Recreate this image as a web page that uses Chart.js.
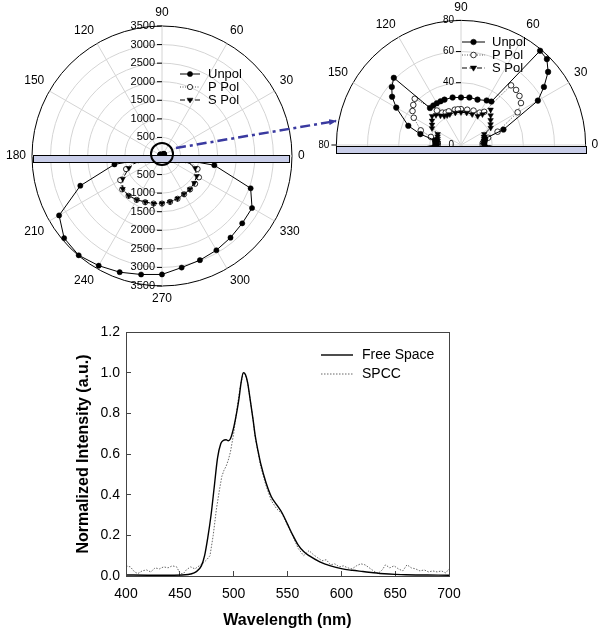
<!DOCTYPE html>
<html>
<head>
<meta charset="utf-8">
<script src="https://cdn.jsdelivr.net/npm/chart.js@4.4.1/dist/chart.umd.min.js"></script>
<style>
  html, body { margin: 0; padding: 0; background: #fff; overflow: hidden; }
  #page { position: relative; width: 604px; height: 638px; background: #fff; }
  .box { position: absolute; }
  .sample { position: absolute; box-sizing: border-box; background: #c9cee9; border: 1.5px solid #000; z-index: 2; }
  #lens { position: absolute; box-sizing: border-box; border: 2px solid #000; border-radius: 50%; z-index: 3; }
  #arrow { position: absolute; left: 0; top: 0; z-index: 4; pointer-events: none; }
</style>
</head>
<body>
<div id="page">
  <div class="box" style="left:0;top:0;width:312px;height:312px"><canvas id="bigPolar"></canvas></div>
  <div class="box" style="left:319px;top:0;width:291px;height:152px;overflow:hidden">
    <div style="position:relative;width:291px;height:291px"><canvas id="zoomPolar"></canvas></div>
  </div>
  <div class="box" style="left:0;top:300px;width:604px;height:338px"><canvas id="spectrum"></canvas></div>

  <div class="sample" style="left:33px;top:155px;width:257px;height:8px"></div>
  <div class="sample" style="left:336px;top:146px;width:251px;height:8px"></div>
  <div id="lens" style="left:150px;top:142px;width:24px;height:24px"></div>
  <svg id="arrow" width="604" height="638">
    <defs>
      <marker id="head" markerWidth="8" markerHeight="6" refX="7" refY="3" orient="auto" markerUnits="userSpaceOnUse">
        <path d="M0,0 L8,3 L0,6 z" fill="#3a3aa0"/>
      </marker>
    </defs>
    <line x1="176" y1="148" x2="336" y2="121" stroke="#3a3aa0" stroke-width="2.5" stroke-dasharray="10 4 3 4" marker-end="url(#head)"/>
  </svg>
</div>

<script>
var FONT = 'Arial, "Liberation Sans", Helvetica, sans-serif';
Chart.defaults.font.family = FONT;
Chart.defaults.color = '#000';

// scan angles in degrees, one slot every 5 deg
var angleStep = 5;
var scanAngles = [];
for (var a = 0; a < 360; a += angleStep) scanAngles.push(a);

// emission above the sample, 0..180 deg
var unpolUpper = [15, 15, 15.5, 16, 29, null, 57, 65, 73, 78, 79, 34, 33, null, 31, null, 31, null, 30.5, null,
  31, null, 31, 31, 31, 31, 31, 61, 58, 54, 48, null, 36, 27, 17, 16.5, 16.5];
var pPolUpper = [14, 14, 15, 18, 25, null, 42, 47, 49, 50, 50, 26, 24, null, 23.5, null, 23, null, 23, 23,
  23, null, 23, 23, 24, 27, null, 42, 40, 38, 35, null, 27.5, 20, 16, 15, 15];
var sPolUpper = [14.7, 14.8, 15, 15.3, 15.6, 16.5, 22, 23.2, 24.8, 26.9, 29.6, 24, 21.5, null, 21, null, 21, null, 21, null,
  21, null, 21, 21, 21.5, 23, 25, 26.3, 24.3, 22.7, 21.5, 16.5, 16, 15.5, 15.2, 15, 15];

// emission below the sample, 185..355 deg (measured every 10 deg)
var unpolLower = [null, 1300, null, 2340, null, 3200, null, 3440, null, 3490, null, 3410, null, 3330, null, 3240, null, 3190,
  null, 3050, null, 2985, null, 2930, null, 2870, null, 2820, null, 2800, null, 2540, null, 1430, null];
var pPolLower = [null, 750, null, 1030, null, 1300, null, 1400, null, 1400, null, 1365, null, 1325, null, 1300, null, 1280,
  null, 1255, null, 1225, null, 1190, null, 1175, null, 1165, null, 1150, null, 1020, null, 750, null];
var sPolLower = [null, 650, null, 950, null, 1220, null, 1380, null, 1395, null, 1360, null, 1320, null, 1300, null, 1275,
  null, 1250, null, 1220, null, 1185, null, 1170, null, 1130, null, 1080, null, 950, null, 650, null];

var bigTickValues = [500, 1000, 1500, 2000, 2500, 3000, 3500];
var zoomTickValues = [0, 40, 60, 80];
var angleLabelStep = 30;

// spectra
var freeWl = [400, 420, 440, 455, 460, 465, 470, 473, 476, 479, 482, 485, 488, 490, 493, 495, 497, 500, 503, 505,
  507, 509, 511, 513, 515, 518, 520, 523, 525, 530, 535, 540, 545, 550, 555, 560, 565, 570, 580, 590,
  600, 610, 620, 630, 640, 650, 660, 680, 700];
var freeVal = [0.005, 0.004, 0.004, 0.006, 0.01, 0.02, 0.05, 0.1, 0.19, 0.3, 0.44, 0.58, 0.65, 0.665, 0.67, 0.665, 0.675, 0.73, 0.81, 0.875,
  0.955, 1.0, 0.99, 0.95, 0.88, 0.77, 0.69, 0.605, 0.555, 0.46, 0.39, 0.35, 0.31, 0.255, 0.2, 0.152, 0.12, 0.1, 0.07, 0.05,
  0.036, 0.028, 0.022, 0.016, 0.011, 0.008, 0.006, 0.005, 0.004];
var spccWl = [400, 404, 408, 411, 415, 419, 423, 427, 431, 435, 439, 443, 447, 450, 453, 456, 460, 464, 468, 472,
  475, 478, 481, 484, 487, 489, 491, 493, 495, 497, 500, 503, 506, 509, 511, 513, 515, 518, 520, 523,
  525, 530, 535, 540, 545, 550, 555, 560, 565, 570, 574, 578, 582, 586, 590, 594, 598, 602, 606, 610,
  614, 618, 622, 626, 630, 634, 638, 641, 645, 649, 653, 657, 661, 665, 669, 673, 677, 681, 685, 689,
  693, 697, 700];
var spccVal = [0.05, 0.045, 0.02, 0.012, 0.025, 0.03, 0.02, 0.04, 0.035, 0.045, 0.04, 0.05, 0.045, 0.015, 0.01, 0.03, 0.045, 0.035, 0.05, 0.065,
  0.08, 0.1, 0.2, 0.33, 0.43, 0.49, 0.52, 0.54, 0.57, 0.61, 0.70, 0.82, 0.93, 1.0, 0.99, 0.95, 0.88, 0.77, 0.68, 0.6,
  0.54, 0.445, 0.37, 0.33, 0.305, 0.25, 0.195, 0.135, 0.1, 0.125, 0.105, 0.09, 0.075, 0.08, 0.055, 0.06, 0.045, 0.05, 0.04, 0.035,
  0.05, 0.06, 0.055, 0.04, 0.025, 0.012, 0.03, 0.055, 0.04, 0.05, 0.035, 0.025, 0.055, 0.04, 0.035, 0.025, 0.03, 0.02, 0.025, 0.02,
  0.025, 0.015, 0.035];

var unpol = unpolUpper.concat(unpolLower);
var pPol = pPolUpper.concat(pPolLower);
var sPol = sPolUpper.concat(sPolLower);

// radar goes clockwise from the top, polar angles go counter-clockwise from the right
var radarAngles = scanAngles.map(function(ang, i) { return ((90 - i * angleStep) % 360 + 360) % 360; });
function toRadar(values) {
  return radarAngles.map(function(ang) { return values[ang / angleStep]; });
}

// tick labels along the vertical axis (the radar scale only draws them one way)
var polarTicks = {
  id: 'polarTicks',
  afterDraw: function(chart, args, opts) {
    var r = chart.scales.r;
    if (!r || !opts.items) return;
    var ctx = chart.ctx;
    ctx.save();
    ctx.font = opts.font;
    ctx.fillStyle = '#000';
    ctx.strokeStyle = '#000';
    ctx.lineWidth = 1;
    ctx.textAlign = 'right';
    ctx.textBaseline = 'middle';
    opts.items.forEach(function(item) {
      var d = r.getDistanceFromCenterForValue(item.value);
      var rad = item.angle * Math.PI / 180;
      var x = r.xCenter + d * Math.cos(rad);
      var y = r.yCenter - d * Math.sin(rad);
      if (item.value !== 0) {
        ctx.beginPath();
        ctx.moveTo(x - 5, y);
        ctx.lineTo(x, y);
        ctx.stroke();
      }
      ctx.fillText(String(item.value), x - 7, y);
    });
    ctx.restore();
  }
};

function drawMarker(ctx, ds, x, y) {
  var rad = ds.pointRadius;
  ctx.save();
  ctx.setLineDash([]);
  ctx.fillStyle = ds.pointBackgroundColor;
  ctx.strokeStyle = ds.pointBorderColor;
  ctx.lineWidth = ds.pointBorderWidth || 1;
  ctx.beginPath();
  if (ds.pointStyle === 'triangle') {
    ctx.moveTo(x - rad, y - rad * 0.6);
    ctx.lineTo(x + rad, y - rad * 0.6);
    ctx.lineTo(x, y + rad);
    ctx.closePath();
  } else {
    ctx.arc(x, y, rad, 0, Math.PI * 2);
  }
  ctx.fill();
  ctx.stroke();
  ctx.restore();
}

// legend placed inside the plot, line sample + marker + name
var insetLegend = {
  id: 'insetLegend',
  afterDraw: function(chart, args, opts) {
    if (opts.x === undefined) return;
    var ctx = chart.ctx;
    chart.data.datasets.forEach(function(ds, i) {
      var y = opts.y + i * opts.rowGap;
      ctx.save();
      ctx.strokeStyle = ds.borderColor;
      ctx.lineWidth = ds.borderWidth;
      ctx.setLineDash(ds.borderDash || []);
      ctx.beginPath();
      ctx.moveTo(opts.x, y);
      ctx.lineTo(opts.x + opts.lineLen, y);
      ctx.stroke();
      ctx.restore();
      if (ds.pointRadius) drawMarker(ctx, ds, opts.x + opts.lineLen / 2, y);
      ctx.save();
      ctx.fillStyle = '#000';
      ctx.font = opts.font;
      ctx.textBaseline = 'middle';
      ctx.fillText(ds.label, opts.x + opts.lineLen + opts.gap, y);
      ctx.restore();
    });
  }
};

var plotFrame = {
  id: 'plotFrame',
  afterDraw: function(chart, args, opts) {
    if (!opts.color) return;
    var a = chart.chartArea;
    var ctx = chart.ctx;
    ctx.save();
    ctx.strokeStyle = opts.color;
    ctx.lineWidth = 1;
    ctx.strokeRect(a.left + 0.5, a.top + 0.5, a.right - a.left, a.bottom - a.top);
    ctx.restore();
  }
};

function polarDatasets(size) {
  return [
    { label: 'Unpol', data: toRadar(unpol), order: 0, borderColor: '#000', borderWidth: 1, fill: false,
      pointStyle: 'circle', pointRadius: size, pointBackgroundColor: '#000', pointBorderColor: '#000', pointBorderWidth: 0.5, spanGaps: true },
    { label: 'P Pol', data: toRadar(pPol), order: 2, borderColor: '#555', borderWidth: 1, borderDash: [1, 1.5], fill: false,
      pointStyle: 'circle', pointRadius: size, pointBackgroundColor: '#fff', pointBorderColor: '#000', pointBorderWidth: 0.8, spanGaps: true },
    { label: 'S Pol', data: toRadar(sPol), order: 1, borderColor: '#000', borderWidth: 1, borderDash: [5, 2.5], fill: false,
      pointStyle: 'triangle', pointRotation: 180, pointRadius: size + 0.4, pointBackgroundColor: '#000', pointBorderColor: '#000', pointBorderWidth: 0.5, spanGaps: true }
  ];
}

function polarOptions(max, step, showLabel, tickItems, tickFont, legend) {
  return {
    responsive: true,
    maintainAspectRatio: false,
    animation: false,
    events: [],
    plugins: {
      legend: { display: false },
      tooltip: { enabled: false },
      polarTicks: { items: tickItems, font: tickFont },
      insetLegend: legend
    },
    scales: {
      r: {
        min: 0,
        max: max,
        ticks: { display: false, stepSize: step },
        grid: {
          circular: true,
          color: function(c) { return c.tick && c.tick.value === max ? '#000' : '#d4d4d4'; },
          lineWidth: 1
        },
        angleLines: {
          color: '#d4d4d4',
          lineWidth: function(c) { return radarAngles[c.index] % angleLabelStep === 0 ? 1 : 0; }
        },
        pointLabels: {
          padding: 6,
          font: { size: 12, family: FONT },
          color: '#000',
          callback: function(label) { return showLabel(Number(label)) ? label : ''; }
        }
      }
    }
  };
}

var bigTicks = bigTickValues.map(function(v) { return { value: v, angle: 90 }; })
  .concat(bigTickValues.map(function(v) { return { value: v, angle: 270 }; }));

new Chart(document.getElementById('bigPolar'), {
  type: 'radar',
  data: { labels: radarAngles.map(String), datasets: polarDatasets(2.6) },
  options: polarOptions(3500, 500,
    function(ang) { return ang % angleLabelStep === 0; },
    bigTicks, '11px ' + FONT,
    { x: 180, y: 74, rowGap: 13, lineLen: 20, gap: 8, font: '13px ' + FONT }),
  plugins: [polarTicks, insetLegend]
});

var zoomTicks = zoomTickValues.map(function(v) { return { value: v, angle: 90 }; })
  .concat([{ value: zoomTickValues[zoomTickValues.length - 1], angle: 180 }]);

new Chart(document.getElementById('zoomPolar'), {
  type: 'radar',
  data: { labels: radarAngles.map(String), datasets: polarDatasets(2.8) },
  options: polarOptions(80, 20,
    function(ang) { return ang % angleLabelStep === 0 && ang < 180; },
    zoomTicks, '10px ' + FONT,
    { x: 143, y: 42, rowGap: 13, lineLen: 23, gap: 7, font: '13px ' + FONT }),
  plugins: [polarTicks, insetLegend]
});

function toPoints(xs, ys) {
  return xs.map(function(x, i) { return { x: x, y: ys[i] }; });
}

new Chart(document.getElementById('spectrum'), {
  type: 'line',
  data: {
    datasets: [
      { label: 'Free Space', data: toPoints(freeWl, freeVal), borderColor: '#000', borderWidth: 1.4,
        pointRadius: 0, cubicInterpolationMode: 'monotone', fill: false },
      { label: 'SPCC', data: toPoints(spccWl, spccVal), borderColor: '#666', borderWidth: 1, borderDash: [1.5, 1.5],
        pointRadius: 0, fill: false }
    ]
  },
  options: {
    responsive: true,
    maintainAspectRatio: false,
    animation: false,
    events: [],
    layout: { padding: { left: 74, right: 155, top: 32, bottom: 0 } },
    plugins: {
      legend: { display: false },
      tooltip: { enabled: false },
      insetLegend: { x: 321, y: 55, rowGap: 19, lineLen: 32, gap: 9, font: '14px ' + FONT },
      plotFrame: { color: '#444' }
    },
    scales: {
      x: {
        type: 'linear',
        min: 400,
        max: 700,
        ticks: { stepSize: 50, font: { size: 14 }, color: '#000', padding: 15, maxRotation: 0 },
        grid: { drawOnChartArea: false, tickLength: -5, color: '#444' },
        border: { color: '#444' },
        title: { display: true, text: 'Wavelength (nm)', font: { size: 16, weight: 'bold' }, color: '#000', padding: { top: 0, bottom: 8 } },
        afterFit: function(scale) { scale.height = 62; }
      },
      y: {
        min: 0,
        max: 1.2,
        ticks: { stepSize: 0.2, font: { size: 14 }, color: '#000', padding: 11,
          callback: function(v) { return v.toFixed(1); } },
        grid: { drawOnChartArea: false, tickLength: -5, color: '#444' },
        border: { color: '#444' },
        title: { display: true, text: 'Normalized Intensity (a.u.)', font: { size: 16, weight: 'bold' }, color: '#000', padding: { top: 0, bottom: 0 } },
        afterFit: function(scale) { scale.width = 52; }
      }
    }
  },
  plugins: [insetLegend, plotFrame]
});
</script>
</body>
</html>
